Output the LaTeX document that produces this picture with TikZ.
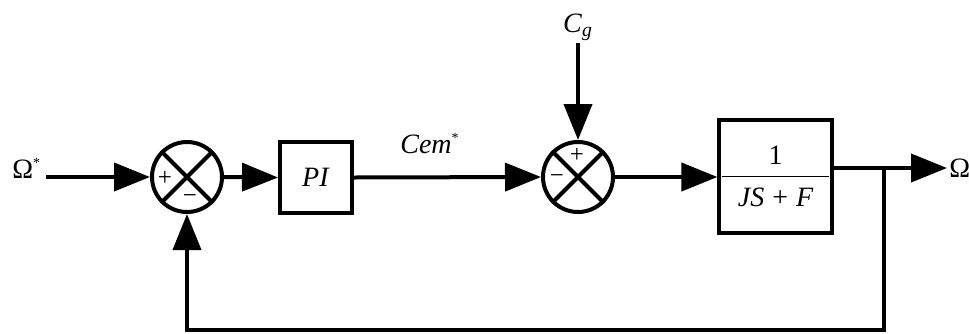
\documentclass[tikz,border=0pt]{standalone}
\usepackage{amsmath}
\usepackage{fontspec}
\setmainfont{Liberation Serif}
\usetikzlibrary{arrows.meta,calc}
\begin{document}
\begin{tikzpicture}[x=0.5pt,y=-0.5pt,
  sig/.style={line width=2pt},
  arr/.style={sig,-{Triangle[length=18pt,width=14pt]}},
  sumnode/.style={circle,draw,line width=2pt,minimum size=35pt,inner sep=0pt},
  blk/.style={draw,line width=2pt,inner sep=0pt},
  lbl/.style={font=\fontsize{14}{16}\selectfont,inner sep=1pt},
  sgn/.style={font=\fontsize{12.5}{13}\selectfont,inner sep=0pt}]
\useasboundingbox (0,0) rectangle (969,333);

% summing junctions with their crosses
\node[sumnode] (s1) at (187,177) {};
\node[sumnode] (s2) at (578,177) {};
\foreach \s in {s1,s2}{
  \draw[line width=2pt] (\s.north west) -- (\s.south east);
  \draw[line width=2pt] (\s.north east) -- (\s.south west);
}
\node[sgn] at (165,178) {+};
\node[sgn] at (190,199) {−};
\node[sgn] at (577,155) {+};
\node[sgn] at (557,179) {−};

% transfer blocks
\node[blk,minimum width=36pt,minimum height=35.5pt,lbl] (pi) at (316,177.5) {\textit{PI}};
\node[blk,minimum width=53.5pt,minimum height=56.5pt,font=\fontsize{14}{16}\selectfont] (plant) at (775.5,176.5)
  {$\dfrac{\text{1}\rule[-3pt]{0pt}{1pt}}{\rule{0pt}{13pt}\;\;\textit{JS}\;\text{+}\;\textit{F}\;\;}$};

% signal labels
\node[lbl,anchor=base west,inner sep=2pt] (wref) at (8,178) {Ω\textsuperscript{\scriptsize *}};
\node[lbl,anchor=base] (cem) at (430,153) {\textit{Cem}\textsuperscript{\scriptsize *}};
\node[lbl,anchor=base] (cg) at (578,32) {\textit{C}\textsubscript{\textit{g}}};
\node[lbl,anchor=west,inner sep=1pt] (wout) at (947,168) {Ω};

% branch point and feedback corner
\coordinate (br) at (884,168);
\coordinate (fb) at (884,330);

% connectors
\draw[arr] (wref.east |- s1) -- (s1.west);
\draw[arr] (s1.east) -- (pi.west);
\draw[arr] (pi.east) -- (s2.west);
\draw[arr] (cg.south) -- (s2.north);
\draw[arr] (s2.east) -- (s2.east -| plant.west);
\draw[arr] (plant.east |- br) -- (wout.west);
\draw[arr] (br) -- (fb) -| (s1.south);
\end{tikzpicture}
\end{document}
